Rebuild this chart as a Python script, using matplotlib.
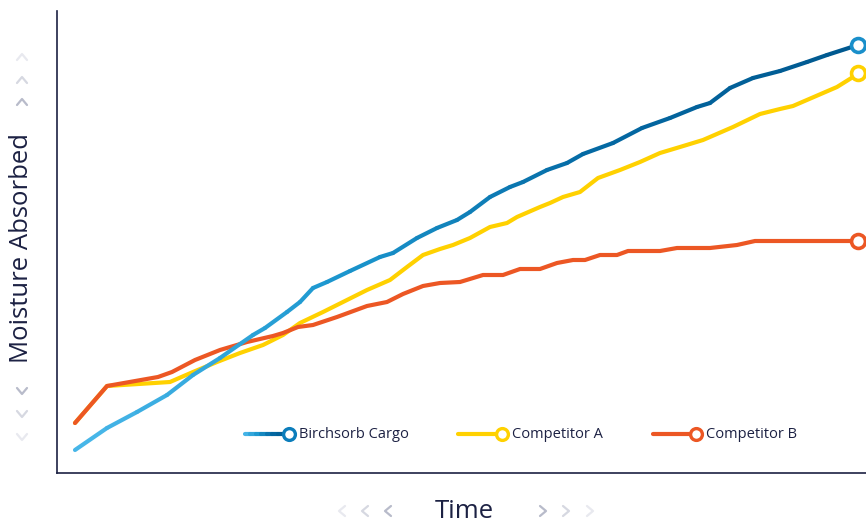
import matplotlib
matplotlib.use("Agg")
import matplotlib.pyplot as plt
from matplotlib.collections import LineCollection
from matplotlib.colors import LinearSegmentedColormap
from matplotlib.lines import Line2D
import numpy as np

# time / moisture readings (arbitrary units)
cargo_t = [0, 32, 62, 92, 118, 145, 178, 190, 212, 225, 238, 252, 275, 305, 318, 342, 362, 382,
           395, 415, 435, 448, 472, 492, 508, 538, 567, 595, 622, 635, 655, 678, 705, 732, 752, 783]
cargo_m = [23, 45, 61, 78, 98, 115, 138, 145, 161, 171, 185, 191, 202, 216, 220, 235, 245, 253,
           261, 276, 286, 291, 303, 310, 319, 330, 345, 355, 366, 370, 385, 395, 402, 411, 418, 428]

comp_a_t = [0, 32, 95, 118, 142, 165, 188, 208, 225, 248, 272, 292, 315, 332, 348, 365, 378, 395, 415,
            432, 442, 465, 475, 488, 505, 523, 545, 565, 585, 605, 628, 658, 685, 705, 718, 762, 778, 783]
comp_a_m = [50, 87, 91, 101, 111, 120, 128, 138, 150, 161, 173, 183, 193, 206, 218, 224, 228, 235, 246,
            250, 256, 266, 270, 276, 281, 295, 303, 311, 320, 326, 333, 346, 359, 364, 367, 386, 396, 400]

comp_b_t = [0, 32, 83, 97, 120, 145, 172, 198, 208, 223, 238, 262, 292, 312, 328, 348, 365, 385, 408,
            428, 445, 465, 482, 498, 510, 525, 542, 553, 585, 602, 635, 662, 680, 783]
comp_b_m = [50, 87, 96, 101, 113, 123, 131, 137, 140, 146, 148, 156, 167, 171, 179, 187, 190, 191, 198,
            198, 204, 204, 210, 213, 213, 218, 218, 222, 222, 225, 225, 228, 232, 232]

labels = ["Birchsorb Cargo", "Competitor A", "Competitor B"]

NAVY = "#1c2143"
YELLOW = "#ffd100"
ORANGE = "#ec5724"
FONT = "Open Sans"
blue_cmap = LinearSegmentedColormap.from_list(
    "birch", ["#4ab8ea", "#1c97cf", "#0469a3", "#00588f"])

W, H = 866, 525
fig = plt.figure(figsize=(W / 100, H / 100), dpi=100)
ax = fig.add_axes([57 / W, 52 / H, 809 / W, 462 / H])
ax.set_xlim(-18, 791)
ax.set_ylim(0, 462)

for s in ["top", "right"]:
    ax.spines[s].set_visible(False)
for s in ["left", "bottom"]:
    ax.spines[s].set_color(NAVY)
    ax.spines[s].set_linewidth(1.2)
ax.set_xticks([])
ax.set_yticks([])

lw = 3.0
ax.plot(comp_a_t, comp_a_m, color=YELLOW, lw=lw, solid_capstyle="round",
        solid_joinstyle="round", zorder=2)
ax.plot(comp_b_t, comp_b_m, color=ORANGE, lw=lw, solid_capstyle="round",
        solid_joinstyle="round", zorder=3)

# gradient line for cargo
pts = np.column_stack([cargo_t, cargo_m])
segs = np.stack([pts[:-1], pts[1:]], axis=1)
frac = (np.array(cargo_t[:-1]) + np.array(cargo_t[1:])) / 2 / cargo_t[-1]
lc = LineCollection(segs, colors=blue_cmap(frac), linewidths=lw, capstyle="round",
                    joinstyle="round", zorder=4)
ax.add_collection(lc)

# end markers
for t, m, c in [(cargo_t, cargo_m, "#1a8fca"), (comp_a_t, comp_a_m, YELLOW),
                (comp_b_t, comp_b_m, ORANGE)]:
    ax.plot(t[-1], m[-1], "o", ms=10, mfc="white", mec=c, mew=2.6, zorder=6, clip_on=False)

# legend drawn by hand
leg_y = 0.0844
items = [(0.2324, 0.2794, None), (0.4957, 0.5426, YELLOW), (0.7367, 0.7824, ORANGE)]
for (x0, x1, col), lab in zip(items, labels):
    if col is None:
        xs = np.linspace(x0, x1, 8)
        lseg = np.stack([np.column_stack([xs[:-1], [leg_y] * 7]),
                         np.column_stack([xs[1:], [leg_y] * 7])], axis=1)
        ax.add_collection(LineCollection(lseg, colors=blue_cmap(np.linspace(0.05, 0.85, 7)),
                                         linewidths=lw, capstyle="round",
                                         transform=ax.transAxes, zorder=5))
        mec = "#0c7dbb"
    else:
        ax.plot([x0, x1], [leg_y, leg_y], color=col, lw=lw, solid_capstyle="round",
                transform=ax.transAxes, zorder=5)
        mec = col
    ax.plot(x1 + 0.0075, leg_y, "o", ms=8.5, mfc="white", mec=mec, mew=2.4,
            transform=ax.transAxes, zorder=6)
    ax.text(x1 + 0.0195, leg_y, lab, transform=ax.transAxes, ha="left", va="center",
            fontsize=10.5, color=NAVY, family=FONT)

fig.text(22 / W, 1 - 248 / H, "Moisture Absorbed", rotation=90, ha="center", va="center",
         fontsize=18.5, color=NAVY, family=FONT)
fig.text(464 / W, 1 - 511 / H, "Time", ha="center", va="center",
         fontsize=18.5, color=NAVY, family=FONT)


def chevron(cx, cy, kind, color):
    # cx, cy in pixels from top-left
    if kind == "up":
        xs, ys = [cx - 5, cx, cx + 5], [cy + 3, cy - 3, cy + 3]
    elif kind == "down":
        xs, ys = [cx - 5, cx, cx + 5], [cy - 3, cy + 3, cy - 3]
    elif kind == "left":
        xs, ys = [cx + 3, cx - 3, cx + 3], [cy - 5, cy, cy + 5]
    else:
        xs, ys = [cx - 3, cx + 3, cx - 3], [cy - 5, cy, cy + 5]
    fig.add_artist(Line2D([x / W for x in xs], [1 - y / H for y in ys],
                          transform=fig.transFigure, color=color, lw=1.6,
                          solid_capstyle="round", solid_joinstyle="round"))


shades = ["#e8e9ef", "#d6d8e1", "#b8bbca"]
for y, c in zip([57, 80, 102], shades):
    chevron(22, y, "up", c)
for y, c in zip([391, 414, 437], shades[::-1]):
    chevron(22, y, "down", c)
for x, c in zip([342, 365, 388], shades):
    chevron(x, 511, "left", c)
for x, c in zip([543, 566, 590], shades[::-1]):
    chevron(x, 511, "right", c)

fig.savefig("out.png", dpi=100)
